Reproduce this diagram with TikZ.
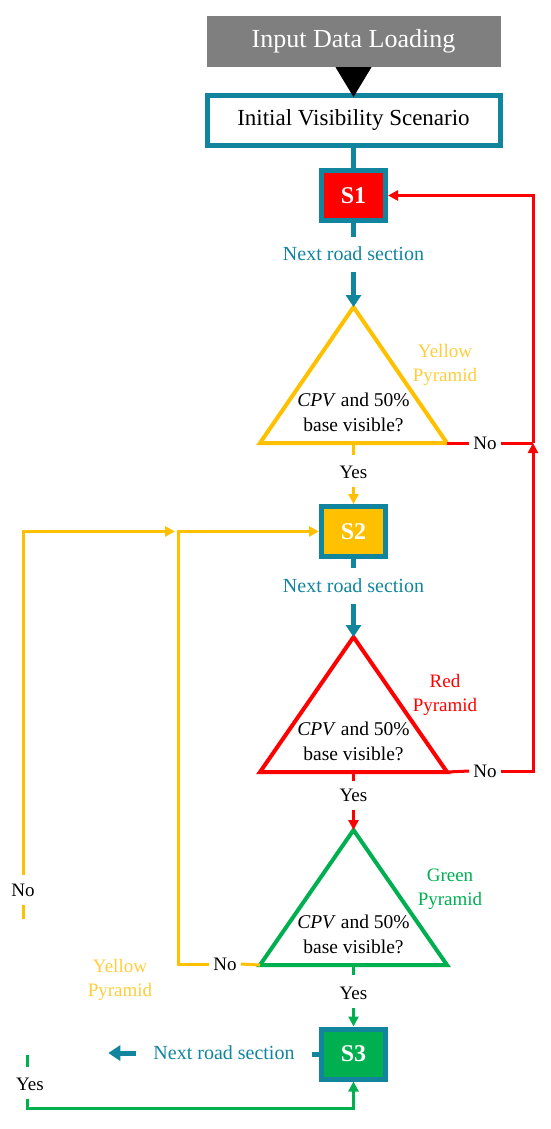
\documentclass[tikz,border=0pt]{standalone}
\usepackage{fontspec}
\setmainfont{Liberation Serif}
\usetikzlibrary{arrows.meta,calc}
\definecolor{tealc}{RGB}{18,133,158}
\definecolor{goldc}{RGB}{255,192,0}
\definecolor{goldtxt}{RGB}{255,205,60}
\definecolor{redc}{RGB}{255,0,0}
\definecolor{greenc}{RGB}{0,176,80}
\definecolor{grayc}{RGB}{127,127,127}
\begin{document}
\begin{tikzpicture}[x=1pt,y=-1pt,
  sbox/.style={draw=tealc,line width=5pt,minimum width=64pt,minimum height=50pt,inner sep=0pt,text=white,font=\fontsize{24}{28}\selectfont\bfseries},
  yn/.style={font=\fontsize{19}{22}\selectfont,inner xsep=4pt,inner ysep=8pt},
  nrs/.style={text=tealc,font=\fontsize{20}{24}\selectfont,inner sep=3pt},
  quest/.style={align=center,font=\fontsize{19.5}{25}\selectfont},
  pyr/.style={align=center,font=\fontsize{19}{24}\selectfont},
  tri/.style={line width=4pt,line join=miter},
  tealarrow/.style={draw=tealc,line width=5pt,-{Triangle[width=15pt,length=12pt]}},
  tealline/.style={draw=tealc,line width=5pt},
  conn/.style={line width=3pt},
  carrow/.style={line width=3pt,-{Triangle[width=10pt,length=10pt]}},
]
\useasboundingbox (0,0) rectangle (550,1129);

% top boxes
\node[fill=grayc,minimum width=294pt,minimum height=51pt,inner sep=0pt,text=white,font=\fontsize{26}{30}\selectfont] (inp) at (353.5,41.5) {Input Data Loading};
\node[draw=tealc,line width=5pt,minimum width=293pt,minimum height=50pt,inner sep=0pt,font=\fontsize{23}{28}\selectfont] (init) at (353.5,120.5) {Initial Visibility Scenario};
\fill[black] ($(inp.south)+(-18,0)$) -- ($(inp.south)+(18,0)$) -- ($(init.north)+(0,4)$) -- cycle;

% state boxes
\node[sbox,fill=redc] (S1) at (353.5,195.5) {S1};
\node[sbox,fill=goldc] (S2) at (353.5,531.5) {S2};
\node[sbox,fill=greenc] (S3) at (353.5,1054) {S3};
\draw[tealline] (init.south) -- (S1.north);

% triangle coordinates
\coordinate (A1) at (353.5,307); \coordinate (L1) at (260,443); \coordinate (R1) at (447,443); \coordinate (B1) at (353.5,443);
\coordinate (A2) at (353.5,637); \coordinate (L2) at (260,772); \coordinate (R2) at (447,772); \coordinate (B2) at (353.5,772);
\coordinate (A3) at (353.5,830); \coordinate (L3) at (260,965); \coordinate (R3) at (447,965); \coordinate (B3) at (353.5,965);
\coordinate (J1) at (533,443);
\coordinate (K1) at (178,531.5);
\coordinate (G1) at (27,1055);

% triangles
\draw[tri,goldc] (A1) -- (L1) -- (R1) -- cycle;
\draw[tri,redc] (A2) -- (L2) -- (R2) -- cycle;
\draw[tri,greenc] (A3) -- (L3) -- (R3) -- cycle;

\node[quest] (q1) at (353.5,412.5) {\textit{CPV} and 50\%\\base visible?};
\node[quest] (q2) at (353.5,741.5) {\textit{CPV} and 50\%\\base visible?};
\node[quest] (q3) at (353.5,934.5) {\textit{CPV} and 50\%\\base visible?};

\node[pyr,text=goldtxt] (p1) at (445,365) {Yellow\\Pyramid};
\node[pyr,text=redc] (p2) at (445,694.5) {Red\\Pyramid};
\node[pyr,text=greenc] (p3) at (450,889.5) {Green\\Pyramid};
\node[pyr,text=goldtxt] (p4) at (120,979.5) {Yellow\\Pyramid};

% next road section labels
\node[nrs] (nr1) at (353.5,254) {Next road section};
\node[nrs] (nr2) at (353.5,586) {Next road section};
\node[nrs] (nr3) at (224,1053) {Next road section};
\draw[tealline] (S1.south) -- ++(0,14);
\draw[tealarrow] (nr1.south) ++(0,8) -- (A1);
\draw[tealline] (S2.south) -- ++(0,9);
\draw[tealarrow] (nr2.south) ++(0,8) -- (A2);
\draw[tealline] (S3.west) -- ++(-7,0);
\draw[tealarrow] (nr3.west) ++(-14,0) -- ++(-28,0);

% yes / no labels
\node[yn] (yes1) at (353.5,472) {Yes};
\node[yn] (yes2) at (353.5,795) {Yes};
\node[yn] (yes3) at (353.5,993) {Yes};
\node[yn] (yes5) at (30,1084) {Yes};
\node[yn] (no1) at (485,443) {No};
\node[yn] (no2) at (485,771) {No};
\node[yn] (no3) at (225,964) {No};
\node[yn] (no4) at (23,890) {No};

% yellow pyramid outcomes
\draw[goldc,conn] (B1) -- ++(0,12);
\draw[goldc,carrow] (yes1.south) -- (S2.north);
\draw[redc,conn] (R1) -- (no1.west);
\draw[redc,conn] (no1.east) -- (J1);
\draw[redc,carrow] (J1) |- (S1.east);

% red pyramid outcomes
\draw[redc,conn] (B2) -- ++(0,9);
\draw[redc,carrow] (yes2.south) -- (A3);
\draw[redc,conn] (R2) -- (no2.west);
\draw[redc,carrow] (no2.east) -| (J1);

% green pyramid outcomes
\draw[greenc,conn] (B3) -- ++(0,10);
\draw[greenc,carrow] (yes3.south) -- (S3.north);
\draw[goldc,conn] (L3) -- (no3.east);
\draw[goldc,carrow] (no3.west) -| (K1) -- (S2.west);

% left outer loops
\draw[goldc,conn] (no4.south) -- ++(0,14);
\draw[goldc,carrow,shorten >=3pt] (no4.north) |- (K1);
\draw[greenc,conn] (G1) -- ++(0,12);
\draw[greenc,carrow] (yes5.south -| G1) -- ++(0,10) -| (S3.south);
\end{tikzpicture}
\end{document}
